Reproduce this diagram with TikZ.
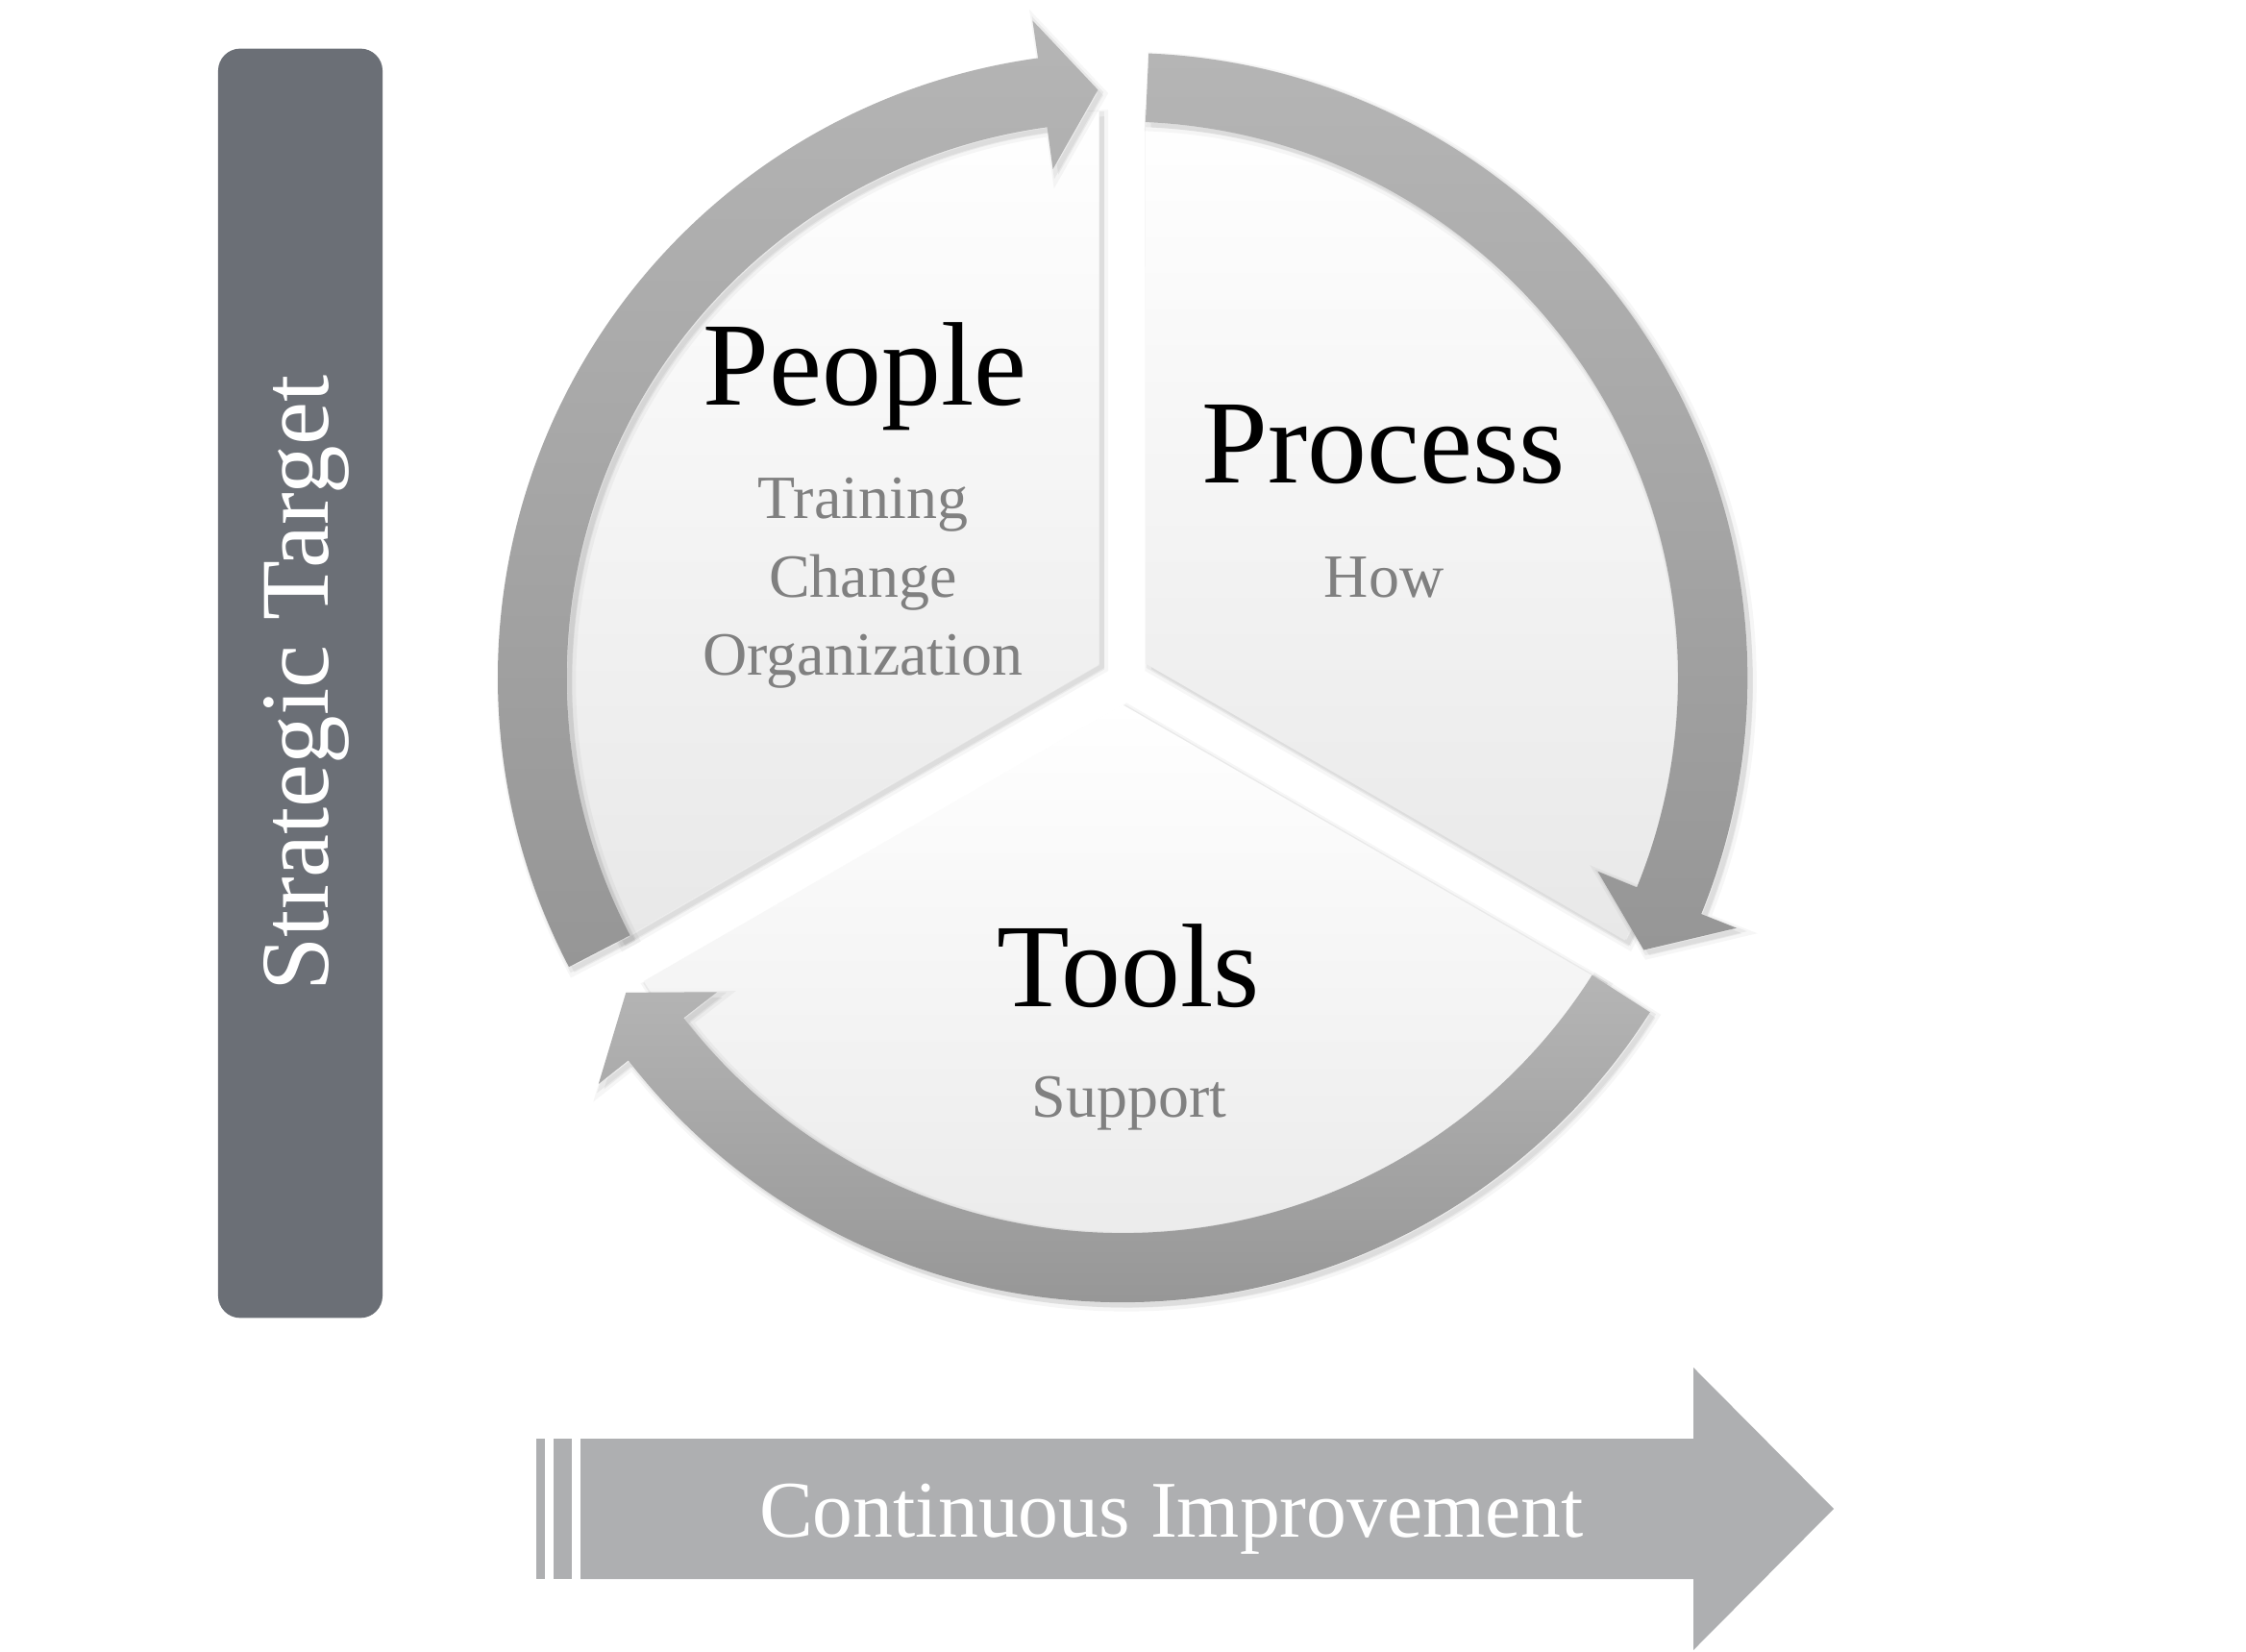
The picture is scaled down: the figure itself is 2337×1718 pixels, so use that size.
\documentclass[tikz,border=0pt]{standalone}
\usepackage{fontspec}
\setmainfont{Liberation Serif}
\definecolor{boxgray}{RGB}{107,111,118}
\definecolor{bararrow}{RGB}{174,175,177}
\definecolor{ringlight}{RGB}{181,181,181}
\definecolor{ringdark}{RGB}{150,150,150}
\definecolor{subtext}{RGB}{128,128,128}
\definecolor{secbottom}{RGB}{232,232,232}
\begin{document}
\begin{tikzpicture}[x=0.01cm,y=0.01cm,
  title/.style={font=\fontsize{35.2}{40}\selectfont, text=black, anchor=base, inner sep=0pt},
  sub/.style={font=\fontsize{18.2}{21}\selectfont, text=subtext, anchor=base, inner sep=0pt},
  softshadow/.style={
    preaction={fill=black, fill opacity=0.05, transform canvas={xshift=1.6pt, yshift=-1.6pt}},
    preaction={draw=black, draw opacity=0.035, line width=3pt, transform canvas={xshift=1.2pt, yshift=-1.2pt}},
    preaction={draw=black, draw opacity=0.05, line width=1.4pt, transform canvas={xshift=0.8pt, yshift=-0.8pt}}},
  sectorfill/.style={top color=white, bottom color=secbottom, softshadow},
  ringarrow/.style={top color=ringlight, bottom color=ringdark, softshadow}
]
\useasboundingbox (0,0) rectangle (2337,1718);
\fill[white] (0,0) rectangle (2337,1718);

% Strategic target bar
\node[fill=boxgray, rounded corners=0.23cm, minimum width=1.71cm, minimum height=13.2cm, inner sep=0pt] (stbox) at (312.5,1007) {};
\node[rotate=90, anchor=base, text=white, font=\fontsize{28.8}{32}\selectfont, inner sep=0pt] (st) at (341,1007) {Strategic Target};

% cycle
\begin{scope}[shift={(1168,1013)}]
  % sectors
  \path[sectorfill] (150:28.3) -- (92.38:590) arc[start angle=92.38, end angle=207.62, radius=5.9cm] -- cycle;
  \path[sectorfill] (30:28.3) -- (-27.62:590) arc[start angle=-27.62, end angle=87.62, radius=5.9cm] -- cycle;
  \path[sectorfill] (270:28.3) -- (212.38:590) arc[start angle=212.38, end angle=327.62, radius=5.9cm] -- cycle;
  % ring arrows
  \foreach \a/\b/\t in {207.6/97.8/92.4, 87.6/-22.2/-27.6, -32.4/-142.2/-147.6}{
    \path[ringarrow] (\a:650) arc[start angle=\a, end angle=\b, radius=6.5cm]
      -- (\b:690) -- (\t:612) -- (\b:534) -- (\b:578)
      arc[start angle=\b, end angle=\a, radius=5.78cm] -- cycle;
  }
\end{scope}

% texts in the cycle
\node[title] (people) at (900,1296) {People};
\node[sub] (training) at (898,1178) {Training};
\node[sub] (change) at (898,1096) {Change};
\node[sub] (org) at (898,1015) {Organization};
\node[title] (process) at (1440,1215) {Process};
\node[sub] (how) at (1440,1096) {How};
\node[title] (tools) at (1174,670) {Tools};
\node[sub] (support) at (1175,555) {Support};

% continuous improvement arrow
\fill[bararrow] (558,75) rectangle (567,221);
\fill[bararrow] (576,75) rectangle (595,221);
\fill[bararrow] (604,221) -- (1762,221) -- (1762,295) -- (1908,148) -- (1762,1) -- (1762,75) -- (604,75) -- cycle;
\node[anchor=base, text=white, font=\fontsize{23.8}{28}\selectfont, inner sep=0pt] (ci) at (1219,119) {Continuous Improvement};
\end{tikzpicture}
\end{document}
